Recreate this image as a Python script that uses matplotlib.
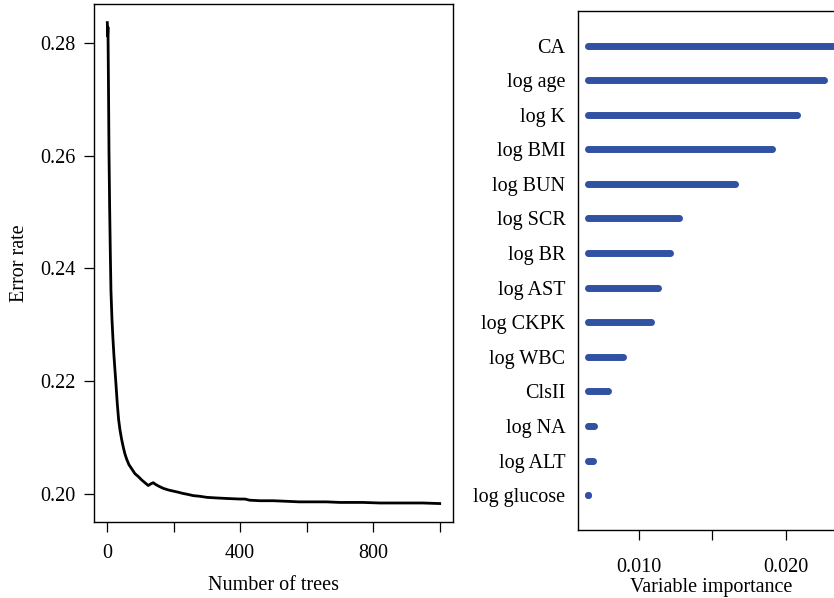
import matplotlib
matplotlib.use("Agg")
import matplotlib.pyplot as plt

plt.rcParams["font.family"] = ["Liberation Serif", "DejaVu Serif"]
plt.rcParams["font.size"] = 14.5

# OOB error rate as trees are added to the forest
trees = [1, 2, 3, 4, 5, 6, 8, 10, 12, 15, 18, 21, 24, 27, 31, 35, 39, 44, 49,
         54, 59, 66, 74, 84, 94, 104, 114, 124, 132, 139, 146, 155, 169, 185,
         200, 215, 228, 245, 260, 278, 300, 328, 360, 400, 415, 428, 460, 500,
         540, 578, 620, 660, 700, 728, 770, 820, 860, 900, 950, 1000]
error_rate = [0.2836, 0.2812, 0.2828, 0.2760, 0.2690, 0.2610, 0.2510, 0.2430,
              0.2360, 0.2310, 0.2275, 0.2245, 0.2220, 0.2195, 0.2160, 0.2132,
              0.2114, 0.2097, 0.2083, 0.2071, 0.2062, 0.2052, 0.2045, 0.2036,
              0.2031, 0.2025, 0.2020, 0.2015, 0.2018, 0.2020, 0.2017, 0.2014,
              0.2010, 0.2007, 0.2005, 0.2003, 0.2001, 0.1999, 0.1997, 0.1996,
              0.1994, 0.1993, 0.1992, 0.1991, 0.1991, 0.1989, 0.1988, 0.1988,
              0.1987, 0.1986, 0.1986, 0.1986, 0.1985, 0.1985, 0.1985, 0.1984,
              0.1984, 0.1984, 0.1984, 0.1983]

# variable importance, bottom to top
variables = ["log glucose", "log ALT", "log NA", "ClsII", "log WBC", "log CKPK",
             "log AST", "log BR", "log SCR", "log BUN", "log BMI", "log K",
             "log age", "CA"]
importance = [0.00652, 0.00688, 0.00695, 0.00792, 0.00892, 0.01083, 0.01131,
              0.01210, 0.01271, 0.01656, 0.01910, 0.02080, 0.02261, 0.02336]

err_xticks = [0, 200, 400, 600, 800, 1000]
err_xticklabels = ["0", "", "400", "", "800", ""]
err_yticks = [0.20, 0.22, 0.24, 0.26, 0.28]
vimp_xticks = [0.010, 0.015, 0.020]
vimp_xticklabels = ["0.010", "", "0.020"]

BLUE = "#3152a3"

fig = plt.figure(figsize=(8.34, 5.98), dpi=100)

# left: error rate curve
ax1 = fig.add_axes([0.1127, 0.1271, 0.4305, 0.8662])
ax1.plot(trees, error_rate, color="black", linewidth=2.0)
ax1.set_xlim(-39, 1040)
ax1.set_ylim(0.19503, 0.2869)
ax1.set_xticks(err_xticks)
ax1.set_xticklabels(err_xticklabels)
ax1.set_yticks(err_yticks)
ax1.set_yticklabels([f"{v:.2f}" for v in err_yticks])
ax1.set_xlabel("Number of trees", labelpad=10)
ax1.set_ylabel("Error rate", labelpad=8)
ax1.tick_params(direction="out", length=7, width=0.9, pad=6)
ax1.tick_params(axis="x", pad=8.5)
for s in ax1.spines.values():
    s.set_linewidth(1.0)

# right: variable importance
ax2 = fig.add_axes([0.6930, 0.1137, 0.3201, 0.8679])
base = min(importance)
pos = list(range(1, len(variables) + 1))
lw = 5.0
for y, v in zip(pos, importance):
    ax2.plot([base, v], [y, y], color=BLUE, linewidth=lw, solid_capstyle="butt")
    ax2.plot([base, v], [y, y], "o", color=BLUE, markersize=lw, markeredgewidth=0)
ax2.set_xlim(0.00584, 0.02404)
ax2.set_ylim(-0.01, 15.0)
ax2.set_yticks(pos)
ax2.set_yticklabels(variables)
ax2.tick_params(axis="y", length=0, pad=9)
ax2.set_xticks(vimp_xticks)
ax2.set_xticklabels(vimp_xticklabels)
ax2.tick_params(axis="x", direction="out", length=7, width=0.9, pad=13)
ax2.set_xlabel("Variable importance", labelpad=1)
for s in ax2.spines.values():
    s.set_linewidth(1.0)

fig.savefig("out.png", dpi=100)
